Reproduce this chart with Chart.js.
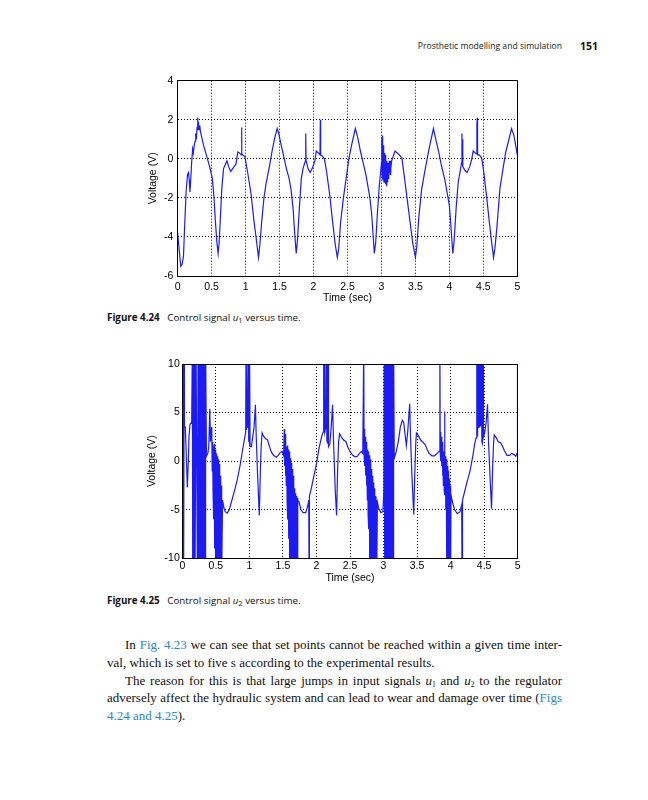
<!DOCTYPE html>
<html><head><meta charset="utf-8">
<script src="https://cdn.jsdelivr.net/npm/chart.js@4.4.1/dist/chart.umd.min.js"></script>
<style>
html,body{margin:0;padding:0;background:#fff;width:648px;height:800px;overflow:hidden;}
body{position:relative;}
.abs{position:absolute;}
#hdr{left:0;top:39px;width:562px;text-align:right;font-family:"Open Sans";font-size:8.6px;line-height:14px;color:#222;white-space:nowrap}
#pg{left:580px;top:39px;font-family:"Open Sans";font-weight:bold;font-size:10.5px;line-height:14px;color:#111}
.cap{left:107px;font-family:"Open Sans";font-size:9.8px;line-height:14px;color:#111;white-space:nowrap}
.cap b{font-weight:bold;margin-right:5px}
.sb{font-size:7.5px;vertical-align:-2px;line-height:0}
#body{left:107px;top:636px;width:455px;font-family:"Liberation Serif";font-size:13px;line-height:17.8px;color:#111}
#body div{height:17.8px;white-space:nowrap}
#body .j{text-align:justify;text-align-last:justify}
#body .ind{padding-left:18px}
a{color:#2a87c4;text-decoration:none}
canvas{position:absolute;}
</style></head>
<body>
<div id="hdr" class="abs">Prosthetic modelling and simulation</div>
<div id="pg" class="abs">151</div>
<canvas id="c1" width="387" height="242" style="left:143px;top:66px"></canvas>
<div class="cap abs" style="top:311px"><b>Figure 4.24</b> Control signal <i>u</i><span class="sb">1</span> versus time.</div>
<canvas id="c2" width="388" height="238" style="left:142px;top:350px"></canvas>
<div class="cap abs" style="top:594px"><b>Figure 4.25</b> Control signal <i>u</i><span class="sb">2</span> versus time.</div>
<div id="body" class="abs">
<div class="j ind">In <a>Fig. 4.23</a> we can see that set points cannot be reached within a given time inter-</div>
<div>val, which is set to five s according to the experimental results.</div>
<div class="j ind">The reason for this is that large jumps in input signals <i>u</i><span class="sb">1</span> and <i>u</i><span class="sb">2</span> to the regulator</div>
<div class="j">adversely affect the hydraulic system and can lead to wear and damage over time (<a>Figs</a></div>
<div><a>4.24 and 4.25</a>).</div>
</div>
<script>
const timeTicks = [0,0.5,1,1.5,2,2.5,3,3.5,4,4.5,5];
const u1VoltTicks = [-6,-4,-2,0,2,4];
const u2VoltTicks = [-10,-5,0,5,10];

// Control signal u1: [time (s), voltage (V)]
const u1Samples = [
[0.000,-3.8],[0.020,-4.6],[0.045,-5.5],[0.065,-5.4],[0.085,-5.0],[0.105,-3.2],[0.125,-1.6],[0.145,-0.8],[0.160,-0.7],[0.170,-1.1],
[0.180,-1.7],[0.190,-1.2],[0.205,-0.2],[0.220,0.5],[0.230,0.3],[0.240,0.6],[0.255,0.9],[0.265,1.3],[0.275,1.0],[0.285,1.6],
[0.295,2.1],[0.300,1.5],[0.305,1.9],[0.315,1.5],[0.325,1.7],[0.335,1.4],[0.380,0.7],[0.430,0.1],[0.470,-0.4],[0.510,-1.0],
[0.535,-2.0],[0.555,-3.2],[0.575,-4.2],[0.595,-4.85],[0.610,-4.3],[0.630,-2.9],[0.650,-1.5],[0.675,-0.5],[0.700,-0.3],[0.725,-0.1],
[0.750,-0.4],[0.780,-0.65],[0.810,-0.5],[0.860,-0.25],[0.885,0.35],[0.910,0.3],[0.935,0.2],[0.940,1.6],[0.945,0.25],[0.960,0.2],
[0.990,0.1],[1.030,-0.7],[1.080,-1.8],[1.120,-3.1],[1.160,-4.2],[1.190,-5.05],[1.210,-4.4],[1.235,-3.3],[1.270,-2.0],[1.300,-1.3],
[1.350,-0.4],[1.390,0.4],[1.430,1.1],[1.465,1.55],[1.490,1.25],[1.530,0.6],[1.560,0.15],[1.600,-0.5],[1.640,-1.0],[1.670,-1.6],
[1.700,-2.6],[1.720,-3.7],[1.745,-4.85],[1.765,-4.1],[1.790,-2.6],[1.820,-1.0],[1.845,-0.5],[1.880,-0.1],[1.885,1.3],[1.890,-0.1],
[1.920,-0.5],[1.950,-0.7],[1.980,-0.5],[2.020,-0.1],[2.040,0.4],[2.070,0.3],[2.095,0.2],[2.100,2.0],[2.105,0.2],[2.130,0.15],
[2.160,0.0],[2.190,-0.6],[2.240,-1.9],[2.280,-3.2],[2.320,-4.4],[2.350,-5.05],[2.370,-4.6],[2.400,-3.2],[2.440,-2.0],[2.480,-1.0],
[2.520,0.0],[2.560,0.7],[2.615,1.55],[2.650,1.1],[2.690,0.4],[2.730,-0.2],[2.770,-0.8],[2.800,-1.4],[2.830,-2.0],[2.855,-2.8],
[2.875,-3.8],[2.895,-4.85],[2.915,-4.3],[2.940,-2.8],[2.970,-1.3],[2.990,-0.6],
[3.000,-0.2],[3.005,1.1],[3.010,-0.9],[3.015,1.2],[3.020,-1.0],[3.025,0.7],[3.030,-1.1],[3.035,0.5],[3.040,-1.2],[3.045,0.3],
[3.050,-1.0],[3.055,0.2],[3.060,-1.3],[3.065,0.0],[3.070,-1.1],[3.075,-0.1],[3.080,-1.4],[3.085,-0.2],[3.090,-1.2],[3.095,-0.3],
[3.100,-1.0],[3.105,-0.2],[3.110,-0.9],[3.115,-0.1],[3.120,-0.7],[3.125,-0.3],[3.130,-0.8],[3.135,-0.1],[3.140,-0.5],[3.150,-0.1],
[3.170,0.1],[3.200,0.4],[3.250,0.25],[3.300,0.05],[3.340,-1.0],[3.380,-2.1],[3.420,-3.2],[3.460,-4.3],[3.500,-5.05],[3.520,-4.5],
[3.550,-3.0],[3.590,-1.6],[3.640,-0.6],[3.700,0.5],[3.765,1.55],[3.800,1.0],[3.840,0.4],[3.880,-0.3],[3.935,-1.1],[3.970,-1.8],
[4.000,-2.4],[4.020,-3.3],[4.050,-4.85],[4.070,-4.2],[4.100,-2.5],[4.130,-1.2],[4.160,-0.6],[4.180,-0.2],[4.185,1.3],[4.190,-0.2],
[4.195,1.0],[4.200,-0.4],[4.230,-0.6],[4.260,-0.7],[4.300,-0.4],[4.330,0.0],[4.350,0.4],[4.380,0.3],[4.400,0.25],[4.405,1.8],
[4.410,2.1],[4.415,0.2],[4.440,0.2],[4.475,0.05],[4.500,-0.5],[4.550,-2.0],[4.590,-3.3],[4.620,-4.2],[4.650,-5.05],[4.670,-4.6],
[4.700,-3.5],[4.745,-1.5],[4.790,-0.5],[4.830,0.35],[4.870,0.9],[4.915,1.55],[4.950,1.2],[5.000,0.2]
];

// Control signal u2: [time (s), voltage (V)] (values beyond +/-10 are clipped by the axes)
const u2Samples = [
[0.000,-12],[0.004,12],[0.008,-12],[0.012,12],[0.016,-12],[0.020,12],[0.024,-12],[0.028,12],[0.032,3.6],[0.045,3.5],
[0.060,0.5],[0.075,-2.7],[0.090,0.0],[0.100,2.5],[0.115,3.8],[0.140,4.0],
[0.150,12],[0.155,-12],[0.160,12],[0.165,-12],[0.170,2.5],[0.175,-12],[0.185,12],[0.190,-12],
[0.205,12],[0.225,-12],[0.235,12],[0.245,-12],
[0.250,12],[0.255,-12],[0.260,12],[0.265,-12],[0.270,12],[0.275,-12],[0.280,12],[0.285,-12],[0.290,12],[0.295,-12],
[0.300,12],[0.305,-12],[0.310,12],[0.315,-12],[0.320,12],[0.325,-12],[0.330,12],[0.335,-12],[0.340,12],[0.345,-12],[0.350,12],
[0.360,0.5],[0.380,0.8],[0.395,1.5],[0.410,5.4],[0.420,2.0],[0.430,3.5],
[0.440,2.5],[0.446,-1.0],[0.452,2.0],[0.458,-3.0],[0.464,1.5],[0.470,-6.0],[0.476,1.8],[0.482,-9.0],[0.488,1.0],[0.494,-12],
[0.500,1.2],[0.506,-12],[0.512,0.8],[0.518,-12],[0.524,0.5],[0.530,-12],[0.536,0.2],[0.542,-12],[0.548,-0.3],[0.554,-12],
[0.560,-0.8],[0.566,-12],[0.572,-1.5],[0.578,-12],[0.584,-2.5],[0.590,-12],
[0.600,-4.0],[0.620,-4.8],[0.640,-5.2],[0.670,-5.35],[0.700,-5.0],[0.740,-4.0],[0.780,-3.0],[0.820,-1.9],[0.860,-0.5],[0.900,1.2],
[0.930,2.4],[0.945,3.0],[0.950,12],[0.955,3.2],[0.960,12],[0.965,3.5],[0.975,3.8],[0.985,12],[0.990,2.0],[0.995,12],
[1.000,1.6],[1.005,12],[1.010,1.5],[1.030,1.5],[1.050,2.5],[1.070,3.5],[1.090,5.8],[1.100,3.0],[1.120,-1.0],[1.148,-5.6],
[1.160,-2.0],[1.175,1.5],[1.190,2.9],[1.210,2.6],[1.240,2.3],[1.270,2.2],[1.300,1.5],[1.330,0.9],[1.360,0.6],[1.400,0.4],
[1.430,0.6],[1.460,0.9],[1.490,1.0],[1.510,0.6],
[1.520,3.3],[1.526,-0.5],[1.532,2.8],[1.538,-1.5],[1.544,2.2],[1.550,-2.5],[1.556,1.5],[1.562,-4.0],[1.568,1.6],[1.574,-6.0],
[1.580,1.2],[1.586,-8.0],[1.592,1.0],[1.598,-12],[1.604,0.6],[1.610,-12],[1.616,0.3],[1.622,-12],[1.628,-0.2],[1.634,-12],
[1.640,-0.8],[1.646,-12],[1.652,-1.5],[1.658,-12],[1.664,-2.0],[1.670,-12],[1.676,-2.8],[1.682,-12],[1.688,-3.3],[1.694,-12],
[1.700,-3.6],[1.706,-12],[1.712,-3.8],[1.718,-12],[1.724,-4.0],
[1.740,-4.2],[1.770,-5.0],[1.800,-5.3],[1.840,-5.3],[1.870,-4.6],[1.885,-4.0],[1.890,-12],[1.895,-3.6],[1.920,-2.9],[1.960,-1.6],
[2.000,-0.3],[2.040,1.4],[2.080,2.6],[2.100,3.0],[2.105,12],[2.110,3.2],[2.120,12],[2.125,3.0],[2.140,3.5],[2.150,12],
[2.155,2.0],[2.160,12],[2.165,1.8],[2.175,12],[2.180,1.5],[2.200,1.8],[2.220,3.5],[2.240,5.8],[2.255,2.0],[2.280,-3.0],
[2.300,-5.6],[2.315,-1.0],[2.330,2.0],[2.345,2.8],[2.370,2.5],[2.400,2.2],[2.440,2.0],[2.470,1.4],[2.500,1.0],[2.540,0.6],
[2.580,0.45],[2.610,0.5],[2.640,0.8],[2.670,1.0],[2.690,0.8],
[2.705,12],[2.710,0.5],[2.716,3.3],[2.722,-0.5],[2.728,2.5],[2.734,-1.5],[2.740,2.0],[2.746,-2.5],[2.752,1.5],[2.758,-4.0],
[2.764,1.2],[2.770,-5.5],[2.776,1.0],[2.782,-7.0],[2.788,0.6],[2.794,-12],[2.800,0.2],[2.806,-12],[2.812,-0.3],[2.818,-12],
[2.824,-0.8],[2.830,-12],[2.836,-1.5],[2.842,-12],[2.848,-2.2],[2.854,-12],[2.860,-2.8],[2.866,-12],[2.872,-3.2],[2.878,-12],
[2.884,-3.6],[2.890,-12],[2.896,-4.0],[2.902,-12],[2.908,-4.2],
[2.930,-4.9],[2.960,-5.3],[2.990,-5.2],[3.005,-3.0],
[3.010,12],[3.015,-12],[3.020,12],[3.025,-12],[3.030,12],[3.035,-12],[3.040,12],[3.045,-12],[3.050,12],[3.055,-12],
[3.060,12],[3.065,-12],[3.070,12],[3.075,-12],[3.080,12],[3.085,-12],[3.090,12],[3.095,-12],[3.100,12],[3.105,-12],
[3.110,12],[3.115,-12],[3.120,12],[3.125,-12],[3.130,12],[3.135,-12],[3.140,12],[3.145,-12],[3.150,12],
[3.160,0.3],[3.190,1.0],[3.220,2.0],[3.250,3.5],[3.280,4.2],[3.300,4.0],[3.320,2.8],[3.340,1.6],[3.360,3.0],[3.390,5.9],
[3.400,3.0],[3.420,-1.0],[3.450,-5.5],[3.465,-1.5],[3.480,1.8],[3.490,2.9],[3.520,2.6],[3.550,2.2],[3.580,2.0],[3.620,1.7],
[3.650,1.2],[3.680,0.8],[3.720,0.55],[3.760,0.55],[3.800,0.8],[3.830,1.0],
[3.840,12],[3.845,1.0],[3.850,3.0],[3.856,0.0],[3.862,2.5],[3.868,-0.5],[3.874,2.0],[3.880,-1.5],[3.886,1.5],[3.892,-2.5],
[3.898,1.0],[3.904,-3.0],[3.910,5.1],[3.916,-3.5],[3.922,0.5],[3.928,-5.0],[3.934,0.2],[3.940,-12],[3.946,0.0],[3.952,-12],
[3.958,-0.5],[3.964,-12],[3.970,-1.0],[3.976,-12],[3.982,-1.8],[3.988,-12],[3.994,-2.5],[4.000,-12],[4.006,-3.5],
[4.030,-4.3],[4.060,-5.0],[4.100,-5.4],[4.140,-5.2],[4.165,-4.5],[4.170,-12],[4.175,-12],[4.180,-4.0],[4.210,-3.1],[4.250,-2.0],
[4.290,-1.0],[4.330,0.5],[4.360,1.8],[4.380,2.4],
[4.390,12],[4.395,2.6],[4.400,12],[4.405,3.0],[4.415,12],[4.420,3.4],[4.430,12],[4.435,3.5],[4.445,12],[4.450,3.6],
[4.460,12],[4.465,2.0],[4.475,1.8],[4.485,12],[4.490,2.5],[4.510,3.0],[4.530,4.0],[4.550,5.85],[4.565,2.0],[4.590,-2.0],
[4.610,-4.9],[4.625,-1.0],[4.640,1.8],[4.650,2.7],[4.680,2.4],[4.710,2.0],[4.740,1.9],[4.770,1.6],[4.800,1.1],[4.840,0.6],
[4.880,0.6],[4.910,0.8],[4.940,0.7],[4.970,0.5],[4.990,0.8],[4.995,12],[5.000,12]
];

const framePlugin = {
  id: 'frame',
  afterDatasetsDraw(chart) {
    const {ctx, chartArea: a} = chart;
    const al = p => Math.round(p - 0.5) + 0.5;
    ctx.save();
    ctx.strokeStyle = '#000';
    ctx.lineWidth = 1;
    ctx.beginPath();
    ctx.rect(al(a.left), al(a.top), al(a.right) - al(a.left), al(a.bottom) - al(a.top));
    ctx.stroke();
    ctx.restore();
  }
};

function makeChart(id, samples, yTicks, g) {
  const tickFont = {family: '"Liberation Sans", Arial, sans-serif', size: 10.5};
  const titleFont = {family: '"Liberation Sans", Arial, sans-serif', size: 10.5};
  return new Chart(document.getElementById(id), {
    type: 'line',
    data: {
      datasets: [{
        data: samples.map(p => ({x: p[0], y: p[1]})),
        borderColor: '#1c1cf2',
        borderWidth: 1.2,
        pointRadius: 0,
        tension: 0,
        fill: false
      }]
    },
    options: {
      responsive: false,
      animation: false,
      events: [],
      layout: {padding: {left: 0, right: g.padR, top: g.padT, bottom: 0}},
      plugins: {legend: {display: false}, tooltip: {enabled: false}},
      scales: {
        x: {
          type: 'linear', min: 0, max: 5,
          afterBuildTicks: s => { s.ticks = timeTicks.map(v => ({value: v})); },
          afterFit: s => { s.height = g.xH; },
          ticks: {font: tickFont, color: '#000', padding: g.xPad, maxRotation: 0, autoSkip: false, callback: v => String(v)},
          grid: {color: '#000', lineWidth: 1, drawTicks: false},
          border: {display: true, color: '#000', width: 1, dash: [1, 2]},
          title: {display: true, text: 'Time (sec)', font: titleFont, color: '#000', padding: {top: 0, bottom: 4}}
        },
        y: {
          type: 'linear', min: yTicks[0], max: yTicks[yTicks.length - 1],
          afterBuildTicks: s => { s.ticks = yTicks.map(v => ({value: v})); },
          afterFit: s => { s.width = g.yW; },
          ticks: {font: tickFont, color: '#000', padding: g.yPad, autoSkip: false, callback: v => String(v)},
          grid: {color: '#000', lineWidth: 1, drawTicks: false},
          border: {display: true, color: '#000', width: 1, dash: [1, 2]},
          title: {display: true, text: 'Voltage (V)', font: titleFont, color: '#000', padding: {top: 4, bottom: 0}}
        }
      }
    },
    plugins: [framePlugin]
  });
}

makeChart('c1', u1Samples, u1VoltTicks, {padR: 12.7, padT: 14.7, xH: 32, yW: 34.7, xPad: 5, yPad: 4.4});
makeChart('c2', u2Samples, u2VoltTicks, {padR: 12.3, padT: 14, xH: 29.7, yW: 40.3, xPad: 2, yPad: 2.5});
</script>
</body></html>
